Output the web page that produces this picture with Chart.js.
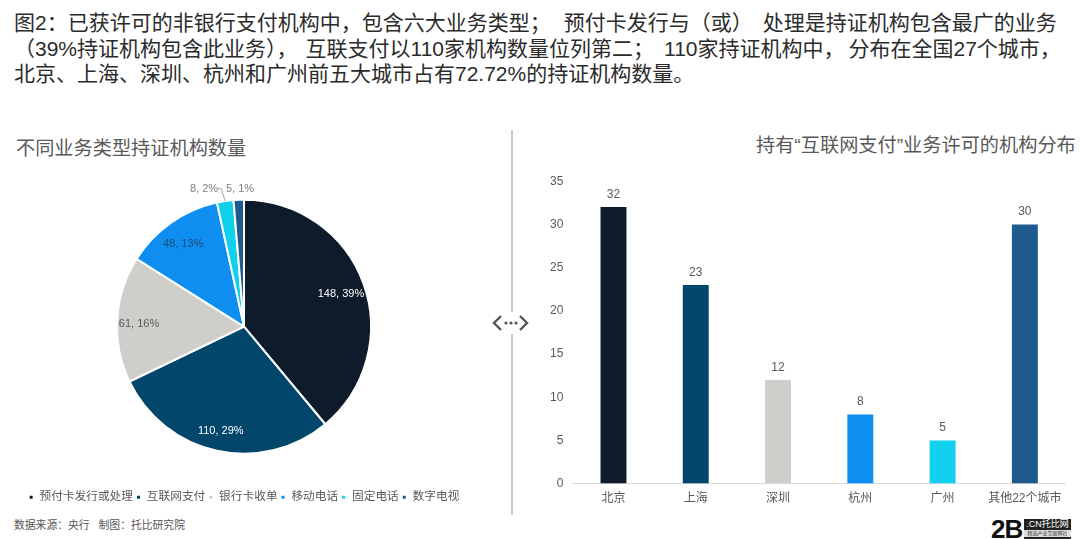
<!DOCTYPE html>
<html>
<head>
<meta charset="utf-8">
<script src="https://cdn.jsdelivr.net/npm/chart.js@4"></script>
<style>
html, body { margin: 0; padding: 0; background: #fff; }
body { width: 1080px; height: 539px; position: relative; overflow: hidden; font-family: "Liberation Sans", "Noto Sans CJK SC", sans-serif; }
.t { position: absolute; white-space: nowrap; }
.head { left: 14px; font-size: 21px; line-height: 26px; color: #2b2b2b; }
.head i { font-style: normal; }
canvas { position: absolute; }
#divider { position: absolute; left: 511px; top: 130px; width: 1.5px; height: 385px; background: #c9c9c9; }
#arrow { position: absolute; left: 492px; top: 312px; }
#logo2b { position: absolute; left: 991px; top: 518px; font: bold 26px/22px "Liberation Sans"; color: #111; letter-spacing: -1px; }
#logoBox { position: absolute; left: 1024px; top: 519px; width: 47px; height: 20px; background: #222; color: #fff; font-size: 9px; line-height: 11px; text-align: center; }
#logoBox div { font-size: 5px; line-height: 7px; background: #ddd; color: #333; }
</style>
</head>
<body>
<div class="t head" style="top:10px">图2：已获许可的非银行支付机构中，包含六大业务类型<i style="margin-right:13px">；</i>预付卡发行与<i style="margin-right:10px">（或）</i>处理是持证机构包含最广的业务</div>
<div class="t head" style="top:36px">（39%持证机构包含此业务）<i style="margin-right:8px">，</i>互联支付以110家机构数量位列第二<i style="margin-right:10px">；</i>110家持证机构中<i style="margin-right:4px">，</i>分布在全国27个城市，</div>
<div class="t head" style="top:61px">北京、上海、深圳、杭州和广州前五大城市占有72.72%的持证机构数量。</div>
<div class="t" style="left:16px;top:133px;font-size:19.2px;color:#595959">不同业务类型持证机构数量</div>
<div class="t" style="left:756px;top:130px;font-size:19.2px;color:#595959">持有“互联网支付”业务许可的机构分布</div>
<div id="divider"></div>
<svg id="arrow" width="38" height="22" viewBox="0 0 38 22">
  <rect x="17" y="0" width="4" height="22" fill="#fff"/>
  <path d="M9 4 L2 11 L9 18 M28 4 L35 11 L28 18" fill="none" stroke="#555" stroke-width="2.4"/>
  <circle cx="14" cy="11" r="1.6" fill="#555"/><circle cx="19" cy="11" r="1.6" fill="#555"/><circle cx="24" cy="11" r="1.6" fill="#555"/>
</svg>
<canvas id="pieChart" style="left:0;top:165px;width:488px;height:348px"></canvas>
<canvas id="barChart" style="left:549px;top:173px;width:517px;height:333px"></canvas>
<div class="t" style="left:14px;top:516px;font-size:10.8px;color:#555">数据来源：央行&nbsp;&nbsp;&nbsp;制图：托比研究院</div>
<div id="logo2b">2B</div>
<div id="logoBox">.CN托比网<div>精选产业互联网社</div></div>
<script>
const pieLabels = ['预付卡发行或处理', '互联网支付', '银行卡收单', '移动电话', '固定电话', '数字电视'];
const pieValues = [148, 110, 61, 48, 8, 5];
const piePercents = [39, 29, 16, 13, 2, 1];
const pieColors = ['#0D1B2A', '#03466B', '#CFCECB', '#0E8EF0', '#10D0EE', '#1F5A8E'];
const pieLabelColors = ['#fff', '#fff', '#595959', '#1F4E79', '#7f7f7f', '#7f7f7f'];

const barLabels = ['北京', '上海', '深圳', '杭州', '广州', '其他22个城市'];
const barValues = [32, 23, 12, 8, 5, 30];
const yTicks = [0, 5, 10, 15, 20, 25, 30, 35];

const fontFamily = '"Liberation Sans", "Noto Sans CJK SC", sans-serif';

// labels on the slices, the two small ones go outside
const pieLabelPlugin = {
    id: 'pieLabelPlugin',
    afterDatasetsDraw(chart) {
        const ctx = chart.ctx;
        ctx.save();
        ctx.font = '11px ' + fontFamily;
        ctx.textAlign = 'center';
        ctx.textBaseline = 'middle';
        chart.getDatasetMeta(0).data.forEach((arc, i) => {
            const mid = (arc.startAngle + arc.endAngle) / 2;
            const text = pieValues[i] + ', ' + piePercents[i] + '%';
            let x = arc.x + Math.cos(mid) * arc.outerRadius * 0.82 - 1;
            let y = arc.y + Math.sin(mid) * arc.outerRadius * 0.82 + 3;
            if (i === 4 || i === 5) {
                y = arc.y - arc.outerRadius - 11;
                x = arc.x + (i === 4 ? -40 : -4);
            }
            if (i === 4) {
                const ex = arc.x + Math.cos(mid) * arc.outerRadius;
                const ey = arc.y + Math.sin(mid) * arc.outerRadius;
                ctx.strokeStyle = '#a6a6a6';
                ctx.lineWidth = 1;
                ctx.beginPath();
                ctx.moveTo(ex, ey);
                ctx.lineTo(ex - 4, y);
                ctx.lineTo(ex - 8, y);
                ctx.stroke();
            }
            ctx.fillStyle = pieLabelColors[i];
            ctx.fillText(text, x, y);
        });
        ctx.restore();
    }
};

const barLabelPlugin = {
    id: 'barLabelPlugin',
    afterDatasetsDraw(chart) {
        const ctx = chart.ctx;
        ctx.save();
        ctx.font = '12px ' + fontFamily;
        ctx.fillStyle = '#595959';
        ctx.textAlign = 'center';
        chart.getDatasetMeta(0).data.forEach((bar, i) => {
            ctx.fillText(barValues[i], bar.x, bar.y - 9);
        });
        ctx.restore();
    }
};

new Chart(document.getElementById('pieChart'), {
    type: 'pie',
    data: {
        labels: pieLabels,
        datasets: [{
            data: pieValues,
            backgroundColor: pieColors,
            borderColor: '#fff',
            borderWidth: 2,
            radius: 127
        }]
    },
    options: {
        responsive: false,
        animation: false,
        plugins: {
            tooltip: { enabled: false },
            legend: {
                position: 'bottom',
                labels: {
                    font: { size: 11.7, family: fontFamily },
                    color: '#595959',
                    boxWidth: 5,
                    boxHeight: 5,
                    padding: 3
                }
            }
        }
    },
    plugins: [pieLabelPlugin]
});

new Chart(document.getElementById('barChart'), {
    type: 'bar',
    data: {
        labels: barLabels,
        datasets: [{
            data: barValues,
            backgroundColor: pieColors,
            barPercentage: 0.315,
            categoryPercentage: 1
        }]
    },
    options: {
        responsive: false,
        animation: false,
        plugins: { legend: { display: false }, tooltip: { enabled: false } },
        scales: {
            x: {
                grid: { display: false },
                border: { color: '#d9d9d9' },
                ticks: { color: '#595959', font: { size: 12, family: fontFamily }, padding: 0 }
            },
            y: {
                min: 0,
                max: 35,
                afterBuildTicks(axis) { axis.ticks = yTicks.map(v => ({ value: v })); },
                grid: { display: false },
                border: { display: false },
                ticks: { color: '#595959', font: { size: 12, family: fontFamily }, padding: 1 }
            }
        }
    },
    plugins: [barLabelPlugin]
});
</script>
</body>
</html>
